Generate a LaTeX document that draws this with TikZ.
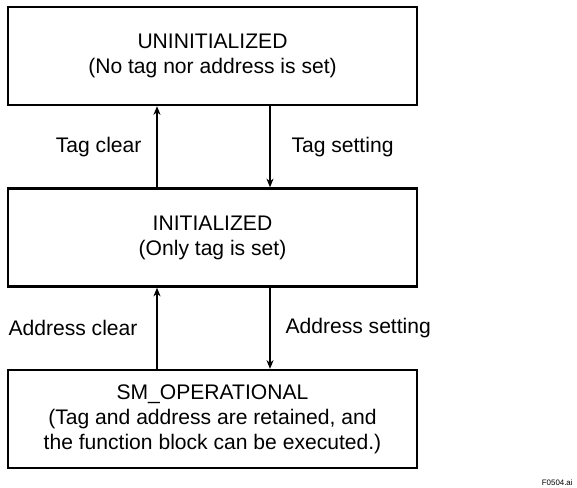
\documentclass[tikz,border=0pt]{standalone}
\usepackage{fontspec}
\setmainfont{Liberation Sans}
\usetikzlibrary{arrows.meta,positioning}
\tikzset{
  state/.style={
    shape = rectangle,
    draw,
    line width = 1.3pt,
    minimum width = 8.18cm,
    minimum height = 1.96cm,
    align = center,
    font = \fontsize{12}{14.2}\selectfont
  },
}
\tikzset{
  trans/.style={
    line width = 0.6pt,
    -{Stealth[length=5pt,width=4pt]}
  },
  lbl/.style={
    font = \fontsize{12}{14.2}\selectfont,
    inner sep = 0pt
  },
  figid/.style={
    anchor = east,
    font = \fontsize{4.5}{5}\selectfont,
    inner sep = 0pt
  }
}
\begin{document}
\begin{tikzpicture}
        \useasboundingbox (0,0) rectangle (11.54,-9.76);
        \node[state] (uninit) at (4.25,-1.12) {UNINITIALIZED\\(No tag nor address is set)};
        \node[state] (init) at (4.25,-4.75) {INITIALIZED\\(Only tag is set)};
        \node[state] (oper) at (4.25,-8.38) {SM\_OPERATIONAL\\(Tag and address are retained, and\\the function block can be executed.)};
        % transitions
        \draw[trans] ([xshift=-1.11cm]init.north) -- ([xshift=-1.11cm]uninit.south)
            node[midway, left=0.3cm, lbl] (tagclr) {Tag clear};
        \draw[trans] ([xshift=1.15cm]uninit.south) -- ([xshift=1.15cm]init.north)
            node[midway, right=0.42cm, lbl] (tagset) {Tag setting};
        \draw[trans] ([xshift=-1.11cm]oper.north) -- ([xshift=-1.11cm]init.south)
            node[midway, left=0.38cm, lbl] (addrclr) {Address clear};
        \draw[trans] ([xshift=1.15cm]init.south) -- ([xshift=1.15cm]oper.north)
            node[midway, right=0.3cm, lbl] (addrset) {Address setting};
        \node[figid] (fig) at (11.46,-9.66) {F0504.ai};
\end{tikzpicture}
\end{document}
